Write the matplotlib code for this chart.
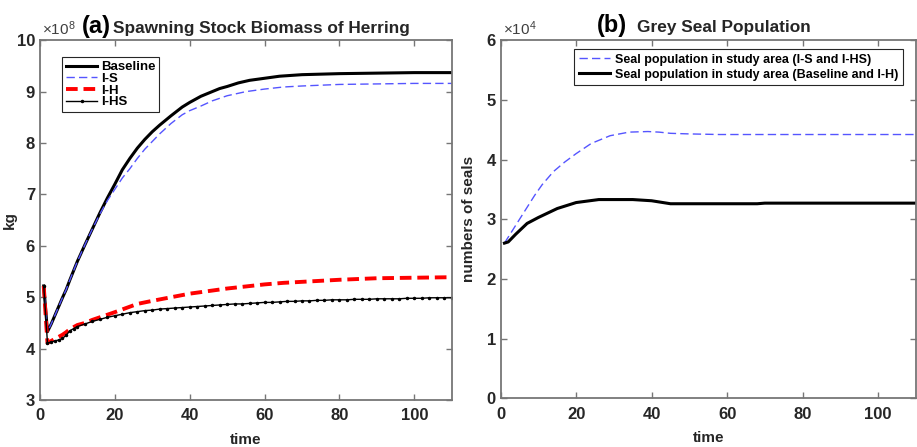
import matplotlib
matplotlib.use("Agg")
import matplotlib.pyplot as plt

plt.rcParams['font.family'] = ['Liberation Sans', 'DejaVu Sans']
plt.rcParams['font.weight'] = 'bold'
plt.rcParams['mathtext.default'] = 'regular'

# Herring spawning stock biomass (units of 1e8 kg)
t_base = [1, 2, 3, 4, 5, 6, 7, 8, 9, 10, 12, 14, 16, 18, 20, 22, 24, 26, 28, 30,
          32, 35, 38, 40, 43, 46, 48, 50, 53, 56, 60, 64, 70, 80, 90, 100, 110]
baseline = [5.22, 4.33, 4.48, 4.65, 4.82, 4.99, 5.15, 5.34, 5.52, 5.70, 6.02, 6.33,
            6.64, 6.93, 7.20, 7.48, 7.70, 7.90, 8.07, 8.22, 8.35, 8.53, 8.70, 8.79,
            8.91, 9.00, 9.06, 9.10, 9.17, 9.22, 9.26, 9.30, 9.33, 9.35, 9.36, 9.37, 9.37]

t_is = [1, 2, 3, 4, 5, 6, 7, 8, 9, 10, 12, 14, 16, 18, 20, 22, 24, 26, 28, 30,
        32, 35, 38, 40, 43, 46, 50, 55, 60, 65, 70, 80, 90, 100, 110]
i_s = [5.22, 4.33, 4.48, 4.65, 4.82, 4.99, 5.15, 5.34, 5.52, 5.70, 6.02, 6.33,
       6.62, 6.88, 7.10, 7.32, 7.50, 7.70, 7.88, 8.03, 8.18, 8.38, 8.55, 8.63,
       8.72, 8.82, 8.92, 9.00, 9.05, 9.09, 9.11, 9.14, 9.15, 9.16, 9.16]

t_ih = [1, 2, 3, 4, 5, 6, 7, 8, 9, 10, 12, 14, 16, 18, 20, 23, 26, 30, 35, 40,
        45, 50, 55, 60, 65, 70, 80, 90, 100, 110]
i_h = [5.22, 4.11, 4.15, 4.19, 4.23, 4.27, 4.32, 4.38, 4.42, 4.46, 4.50, 4.56,
       4.61, 4.66, 4.71, 4.79, 4.87, 4.93, 5.00, 5.07, 5.12, 5.17, 5.21, 5.25,
       5.28, 5.30, 5.34, 5.37, 5.38, 5.39]

t_ihs = [1, 2, 3, 4, 5, 6, 7, 8, 9, 10, 12, 14, 16, 18, 20, 22, 24, 26, 28, 30,
         32, 34, 36, 38, 40, 42, 44, 46, 48, 50, 52, 54, 56, 58, 60, 62, 64, 66,
         68, 70, 72, 74, 76, 78, 80, 82, 84, 86, 88, 90, 92, 94, 96, 98, 100,
         102, 104, 106, 108, 110]
i_hs = [5.22, 4.11, 4.13, 4.15, 4.17, 4.20, 4.26, 4.35, 4.39, 4.43, 4.48, 4.53,
        4.57, 4.61, 4.64, 4.67, 4.70, 4.72, 4.74, 4.75, 4.77, 4.78, 4.79, 4.80,
        4.81, 4.82, 4.83, 4.84, 4.85, 4.86, 4.87, 4.87, 4.88, 4.89, 4.90, 4.90,
        4.91, 4.92, 4.92, 4.93, 4.93, 4.94, 4.94, 4.95, 4.95, 4.95, 4.96, 4.96,
        4.96, 4.97, 4.97, 4.97, 4.97, 4.98, 4.98, 4.98, 4.99, 4.99, 4.99, 4.99]

# Grey seal population (units of 1e4)
t_seal_s = [1, 3, 6, 9, 11, 14, 17, 20, 24, 29, 34, 39, 42, 45, 50, 58, 110]
seal_s = [2.60, 2.80, 3.10, 3.40, 3.58, 3.80, 3.96, 4.10, 4.27, 4.40, 4.46, 4.47,
          4.46, 4.44, 4.43, 4.42, 4.42]
t_seal_b = [1, 2, 4, 7, 10, 15, 20, 26, 35, 40, 45, 68, 70, 110]
seal_b = [2.60, 2.62, 2.75, 2.93, 3.03, 3.18, 3.28, 3.33, 3.33, 3.31, 3.26, 3.26,
          3.27, 3.27]

spine_col = '#767676'
text_col = '#262626'

fig = plt.figure(figsize=(9.17, 4.47), dpi=100)
ax1 = fig.add_axes([0.0436, 0.105, 0.449, 0.805])
ax2 = fig.add_axes([0.546, 0.109, 0.4526, 0.801])


def style(ax):
    for s in ax.spines.values():
        s.set_color(spine_col)
        s.set_linewidth(1.3)
    ax.tick_params(direction='in', length=4, width=1, color=spine_col,
                   top=True, right=True, labelsize=12, labelcolor=text_col)
    ax.tick_params(axis='x', pad=6)
    for lab in ax.get_xticklabels() + ax.get_yticklabels():
        lab.set_fontweight('bold')
    ax.set_xlabel('time', fontsize=11, fontweight='bold', color=text_col, labelpad=7)


# (a) herring
ax1.plot(t_base, baseline, color='black', lw=2.2, label='Baseline')
ax1.plot(t_is, i_s, color='#5555ff', lw=1, ls=(0, (6, 3)), label='I-S')
ax1.plot(t_ih, i_h, color='red', lw=2.8, ls=(0, (3, 1.5)), label='I-H')
ax1.plot(t_ihs, i_hs, color='black', lw=1, marker='.', ms=3, label='I-HS')
ax1.set_xlim(0, 110)
ax1.set_ylim(3, 10)
ax1.set_xticks([0, 20, 40, 60, 80, 100])
ax1.set_yticks(range(3, 11))
style(ax1)
ax1.set_ylabel('kg', fontsize=11, fontweight='bold', color=text_col)
ax1.yaxis.set_label_coords(-0.056, 0.5)
ax1.text(0.005, 1.014, '×10$^{8}$', transform=ax1.transAxes, fontsize=11,
         color='#404040', fontweight='normal', ha='left', va='baseline')
ax1.text(0.102, 1.019, '(a)', transform=ax1.transAxes, fontsize=17, ha='left',
         va='baseline', color='black')
ax1.text(0.177, 1.019, 'Spawning Stock Biomass of Herring',
         transform=ax1.transAxes, fontsize=12.4, ha='left', va='baseline',
         color=text_col)
leg1 = ax1.legend(loc='upper left', bbox_to_anchor=(0.053, 0.953),
                  prop={'weight': 'bold', 'size': 9.5}, handlelength=2.4,
                  labelspacing=-0.04, borderpad=0.3, handletextpad=0.25,
                  borderaxespad=0, fancybox=False, framealpha=1,
                  edgecolor=text_col)
leg1.get_frame().set_linewidth(0.8)

# (b) grey seals
ax2.plot(t_seal_s, seal_s, color='#5555ff', lw=1, ls=(0, (6, 3)),
         label='Seal population in study area (I-S and I-HS)')
ax2.plot(t_seal_b, seal_b, color='black', lw=2.2,
         label='Seal population in study area (Baseline and I-H)')
ax2.set_xlim(0, 110)
ax2.set_ylim(0, 6)
ax2.set_xticks([0, 20, 40, 60, 80, 100])
ax2.set_yticks(range(0, 7))
style(ax2)
ax2.set_ylabel('numbers of seals', fontsize=11, fontweight='bold', color=text_col)
ax2.yaxis.set_label_coords(-0.06, 0.5)
ax2.text(0.005, 1.014, '×10$^{4}$', transform=ax2.transAxes, fontsize=11,
         color='#404040', fontweight='normal', ha='left', va='baseline')
ax2.text(0.231, 1.022, '(b)', transform=ax2.transAxes, fontsize=17, ha='left',
         va='baseline', color='black')
ax2.text(0.328, 1.022, 'Grey Seal Population', transform=ax2.transAxes,
         fontsize=12.4, ha='left', va='baseline', color=text_col)
leg2 = ax2.legend(loc='upper right', bbox_to_anchor=(0.969, 0.975),
                  prop={'weight': 'bold', 'size': 9}, handlelength=2.5,
                  labelspacing=0.25, borderpad=0.35, handletextpad=0.4,
                  borderaxespad=0, fancybox=False, framealpha=1,
                  edgecolor=text_col)
leg2.get_frame().set_linewidth(0.8)

fig.savefig('out.png', dpi=100)
